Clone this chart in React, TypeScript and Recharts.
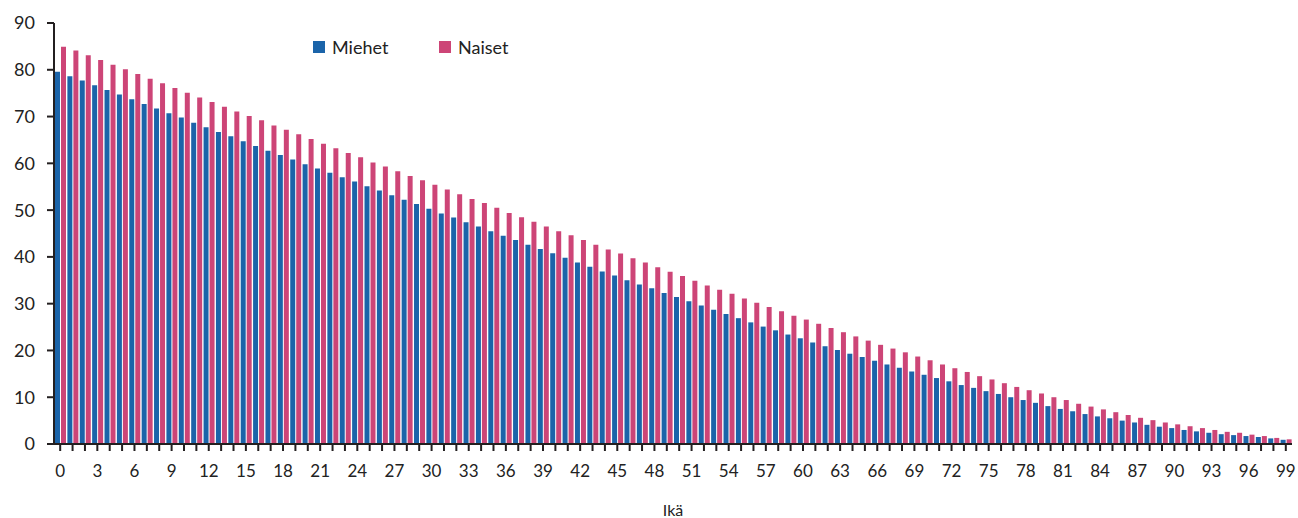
import { BarChart, Bar, XAxis, YAxis } from "recharts";

// Elinajanodote iän mukaan
const ages: number[] = Array.from({ length: 100 }, (_, i) => i);

const miehet: number[] = [
  79.6, 78.6, 77.7, 76.7, 75.7, 74.7, 73.7, 72.7, 71.7, 70.7,
  69.8, 68.7, 67.7, 66.7, 65.8, 64.7, 63.7, 62.7, 61.8, 60.8,
  59.8, 58.9, 58.0, 57.0, 56.1, 55.1, 54.2, 53.2, 52.2, 51.3,
  50.3, 49.3, 48.4, 47.4, 46.5, 45.5, 44.5, 43.6, 42.6, 41.7,
  40.8, 39.8, 38.8, 37.9, 36.9, 36.0, 35.0, 34.1, 33.3, 32.3,
  31.4, 30.5, 29.6, 28.7, 27.8, 26.9, 26.0, 25.1, 24.3, 23.4,
  22.6, 21.7, 20.9, 20.1, 19.3, 18.6, 17.8, 17.0, 16.3, 15.5,
  14.8, 14.1, 13.4, 12.6, 12.0, 11.3, 10.7, 10.0, 9.4, 8.8,
  8.1, 7.5, 7.0, 6.4, 5.9, 5.5, 5.0, 4.6, 4.1, 3.7,
  3.4, 3.0, 2.7, 2.4, 2.1, 1.9, 1.7, 1.5, 1.2, 0.9,
];

const naiset: number[] = [
  84.9, 84.1, 83.1, 82.1, 81.1, 80.1, 79.1, 78.1, 77.1, 76.1,
  75.1, 74.1, 73.1, 72.1, 71.1, 70.1, 69.2, 68.1, 67.2, 66.2,
  65.2, 64.2, 63.2, 62.2, 61.3, 60.2, 59.3, 58.3, 57.3, 56.4,
  55.4, 54.4, 53.4, 52.4, 51.5, 50.5, 49.4, 48.5, 47.5, 46.5,
  45.5, 44.6, 43.6, 42.6, 41.6, 40.7, 39.7, 38.8, 37.8, 36.8,
  35.9, 34.9, 33.9, 33.0, 32.1, 31.1, 30.2, 29.3, 28.4, 27.4,
  26.6, 25.7, 24.8, 23.9, 23.0, 22.1, 21.2, 20.4, 19.6, 18.7,
  17.9, 17.0, 16.2, 15.4, 14.5, 13.8, 13.0, 12.2, 11.5, 10.8,
  10.0, 9.4, 8.6, 8.0, 7.4, 6.8, 6.2, 5.6, 5.1, 4.6,
  4.2, 3.8, 3.4, 3.0, 2.6, 2.4, 2.0, 1.7, 1.3, 1.0,
];

const yTicks = [0, 10, 20, 30, 40, 50, 60, 70, 80, 90];

const data = ages.map((age, i) => ({
  ika: age,
  Miehet: miehet[i],
  Naiset: naiset[i],
}));

const BLUE = "#1b64a9";
const PINK = "#cd4577";
const AXIS = "#231f20";
const FONT = "Lato, 'Open Sans', sans-serif";

const legendItems = [
  { name: "Miehet", color: BLUE, left: 313 },
  { name: "Naiset", color: PINK, left: 439 },
];

const App = () => {
  return (
    <div style={{ position: "absolute", left: 0, top: 0, width: 1298, height: 518, background: "#fff" }}>
      <BarChart
        width={1298}
        height={518}
        data={data}
        margin={{ top: 23, right: 6, bottom: 0, left: 0 }}
        barCategoryGap={1}
        barGap={1}
      >
        <XAxis
          dataKey="ika"
          interval={0}
          tickFormatter={(v: number) => (v % 3 === 0 ? String(v) : "")}
          tick={{ fontSize: 17, fill: "#222", fontFamily: FONT }}
          tickSize={7}
          tickMargin={14}
          height={74}
          axisLine={{ stroke: AXIS, strokeWidth: 2 }}
          tickLine={{ stroke: AXIS, strokeWidth: 2 }}
          label={{ value: "Ikä", position: "insideBottom", offset: 2, fontSize: 16, fill: "#222", fontFamily: FONT }}
        />
        <YAxis
          domain={[0, 90]}
          ticks={yTicks}
          interval={0}
          width={54}
          tick={{ fontSize: 18, fill: "#222", fontFamily: FONT }}
          tickSize={7}
          tickMargin={12}
          axisLine={{ stroke: AXIS, strokeWidth: 2 }}
          tickLine={{ stroke: AXIS, strokeWidth: 2 }}
        />
        <Bar dataKey="Miehet" fill={BLUE} isAnimationActive={false} />
        <Bar dataKey="Naiset" fill={PINK} isAnimationActive={false} />
      </BarChart>
      {legendItems.map((item) => (
        <div
          key={item.name}
          style={{
            position: "absolute",
            top: 36,
            left: item.left,
            display: "flex",
            alignItems: "center",
            fontFamily: FONT,
            fontSize: 18,
            color: "#222",
          }}
        >
          <span style={{ width: 12, height: 12, background: item.color, marginRight: 7, display: "inline-block" }} />
          <span>{item.name}</span>
        </div>
      ))}
    </div>
  );
};

export default App;
